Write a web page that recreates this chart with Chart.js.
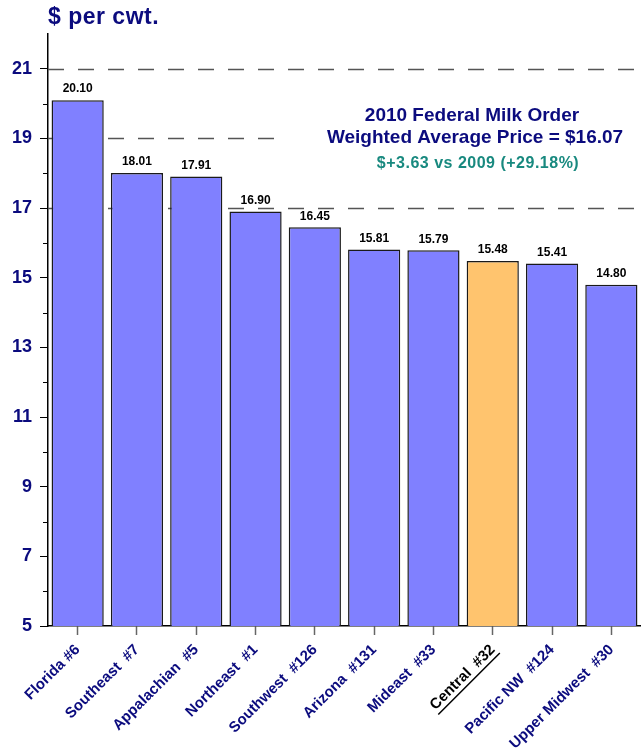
<!DOCTYPE html>
<html>
<head>
<meta charset="utf-8">
<script src="https://cdn.jsdelivr.net/npm/chart.js@4.4.0/dist/chart.umd.min.js"></script>
<style>
  html, body { margin: 0; padding: 0; background: #fff; }
  #wrap { width: 641px; height: 752px; }
</style>
</head>
<body>
<div id="wrap"><canvas id="milk_prices"></canvas></div>
<script>
// data
const regions = ['Florida #6', 'Southeast  #7', 'Appalachian  #5', 'Northeast  #1', 'Southwest  #126',
                 'Arizona  #131', 'Mideast  #33', 'Central  #32', 'Pacific NW  #124', 'Upper Midwest  #30'];
const prices = [20.10, 18.01, 17.91, 16.90, 16.45, 15.81, 15.79, 15.48, 15.41, 14.80];
const highlightIndex = 7; // Central #32
const yTickLabels = [5, 7, 9, 11, 13, 15, 17, 19, 21];
const dashedLines = [17, 19, 21];
const titleText = '$ per cwt.';
const noteLines = ['2010 Federal Milk Order', 'Weighted Average Price = $16.07'];
const noteSub = '$+3.63 vs 2009 (+29.18%)';

const NAVY = '#0b0b7e';
const FONT = 'Arial, "Liberation Sans", sans-serif';

var barColors = prices.map(function(v, i) {
    return i === highlightIndex ? '#ffc46e' : '#8080ff';
});

// dashed lines, note box, title, minor ticks
const extrasPlugin = {
    id: 'extras',
    beforeDatasetsDraw: function(chart) {
        const ctx = chart.ctx;
        const area = chart.chartArea;
        const y = chart.scales.y;
        ctx.save();
        ctx.strokeStyle = '#555';
        ctx.lineWidth = 1.5;
        ctx.setLineDash([16, 14]);
        dashedLines.forEach(function(v) {
            const py = Math.round(y.getPixelForValue(v)) + 0.5;
            ctx.beginPath();
            ctx.moveTo(area.left, py);
            ctx.lineTo(area.right, py);
            ctx.stroke();
        });
        ctx.setLineDash([]);

        // white box behind the note
        ctx.fillStyle = '#fff';
        ctx.fillRect(288, 92, 353, 90);
        ctx.textAlign = 'center';
        ctx.textBaseline = 'middle';
        ctx.fillStyle = NAVY;
        ctx.font = 'bold 19px ' + FONT;
        ctx.fillText(noteLines[0], 472, 116);
        ctx.fillText(noteLines[1], 475, 138);
        ctx.fillStyle = '#18897f';
        ctx.font = 'bold 16px ' + FONT;
        ctx.letterSpacing = '0.5px';
        ctx.fillText(noteSub, 478, 164);
        ctx.restore();
    },
    afterDraw: function(chart) {
        const ctx = chart.ctx;
        const area = chart.chartArea;
        const y = chart.scales.y;
        ctx.save();
        // title
        ctx.fillStyle = NAVY;
        ctx.font = 'bold 23px ' + FONT;
        ctx.textAlign = 'left';
        ctx.textBaseline = 'middle';
        ctx.letterSpacing = '0.5px';
        ctx.fillText(titleText, 48, 18);
        ctx.letterSpacing = '0px';

        // minor ticks on y axis
        ctx.strokeStyle = '#000';
        ctx.lineWidth = 1;
        for (let v = 6; v <= 20; v += 2) {
            const py = Math.round(y.getPixelForValue(v)) + 0.5;
            ctx.beginPath();
            ctx.moveTo(area.left - 5, py);
            ctx.lineTo(area.left, py);
            ctx.stroke();
        }

        // value labels above bars
        const meta = chart.getDatasetMeta(0);
        ctx.fillStyle = '#000';
        ctx.font = 'bold 12px ' + FONT;
        ctx.textAlign = 'center';
        ctx.textBaseline = 'bottom';
        meta.data.forEach(function(bar, i) {
            ctx.fillText(prices[i].toFixed(2), bar.x, bar.y - 5);
        });

        // underline the Central label
        const items = chart.scales.x.getLabelItems();
        const item = items[highlightIndex];
        if (item) {
            const tr = item.options.translation;
            ctx.font = 'bold 15px ' + FONT;
            const w = ctx.measureText(regions[highlightIndex]).width;
            ctx.translate(tr[0], tr[1]);
            ctx.rotate(item.options.rotation);
            const off = item.textOffset + 9;
            ctx.strokeStyle = '#000';
            ctx.lineWidth = 1.5;
            ctx.beginPath();
            ctx.moveTo(-w - 1, off);
            ctx.lineTo(1, off);
            ctx.stroke();
        }
        ctx.restore();
    }
};

var chart_milk = document.getElementById('milk_prices');

let chartMilk = new Chart(chart_milk, {
    type: 'bar',
    data: {
        labels: regions,
        datasets: [{
            label: 'Price',
            data: prices,
            backgroundColor: barColors,
            borderColor: '#1a1a1a',
            borderWidth: 1.5,
            borderSkipped: 'bottom',
            barPercentage: 0.88,
            categoryPercentage: 1.0
        }]
    },
    options: {
        responsive: true,
        maintainAspectRatio: false,
        animation: false,
        layout: {
            padding: { top: 34, left: 10, right: 0, bottom: 0 }
        },
        plugins: {
            legend: { display: false },
            tooltip: { enabled: false }
        },
        scales: {
            x: {
                offset: true,
                grid: {
                    offset: false,
                    drawOnChartArea: false,
                    tickLength: 9,
                    tickColor: '#666',
                    tickWidth: 1.5
                },
                border: { color: '#000', width: 1.5 },
                ticks: {
                    autoSkip: false,
                    maxRotation: 45,
                    minRotation: 45,
                    padding: 6,
                    color: function(ctx) {
                        return ctx.index === highlightIndex ? '#000' : NAVY;
                    },
                    font: { family: FONT, size: 15, weight: 'bold' }
                },
                afterFit: function(scale) {
                    scale.height = 126;
                }
            },
            y: {
                min: 5,
                max: 22,
                grid: {
                    drawOnChartArea: false,
                    tickLength: 8,
                    tickWidth: 1,
                    tickColor: function(ctx) {
                        return yTickLabels.indexOf(ctx.tick.value) >= 0 ? '#000' : 'rgba(0,0,0,0)';
                    }
                },
                border: { color: '#000', width: 1.5 },
                ticks: {
                    stepSize: 1,
                    padding: 8,
                    color: NAVY,
                    font: { family: FONT, size: 18, weight: 'bold' },
                    callback: function(value) {
                        return yTickLabels.indexOf(value) >= 0 ? value : '';
                    }
                },
                afterFit: function(scale) {
                    scale.width = 38;
                }
            }
        }
    },
    plugins: [extrasPlugin]
});
</script>
</body>
</html>
